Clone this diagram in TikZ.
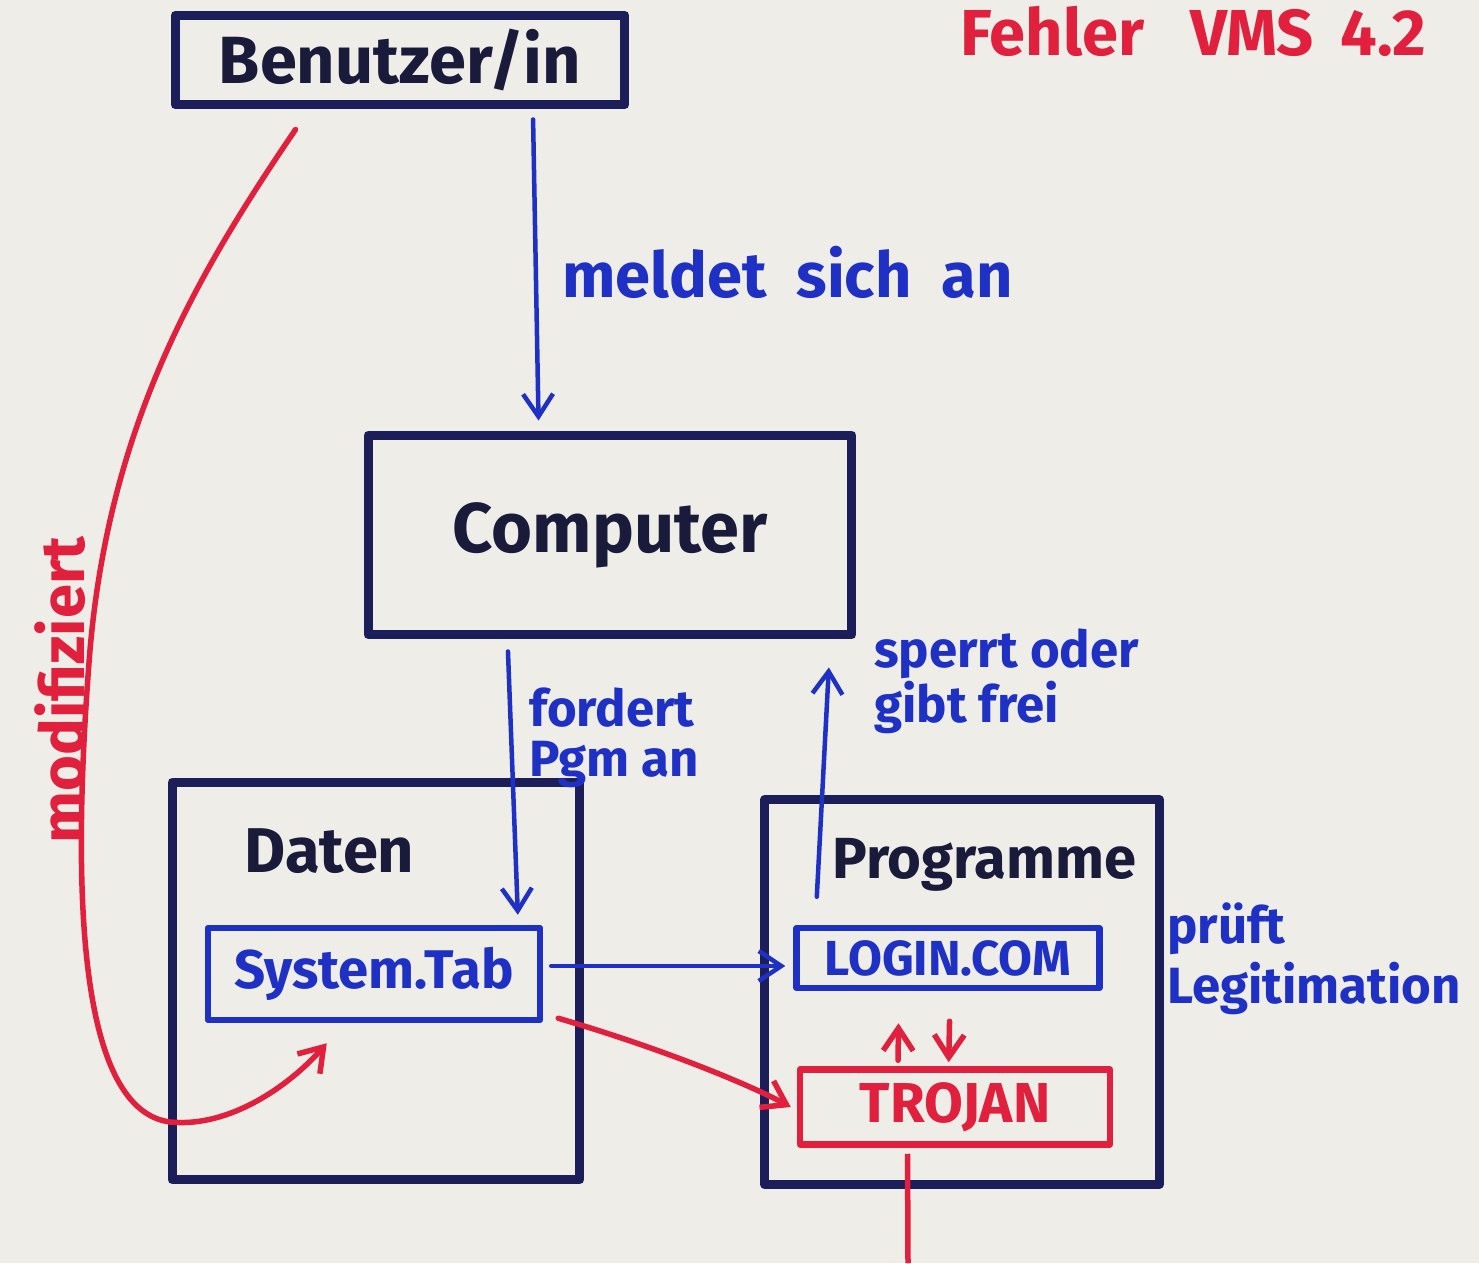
\documentclass[tikz,border=0pt]{standalone}
\usepackage{fontspec}
\setmainfont{Fira Sans}
\usetikzlibrary{arrows.meta,calc}
\definecolor{bgc}{HTML}{EEEDE8}
\definecolor{navy}{HTML}{1C1E5A}
\definecolor{ink}{HTML}{1A1A3A}
\definecolor{mblue}{HTML}{1F30C4}
\definecolor{mred}{HTML}{E0203C}
\newcommand{\fsz}[1]{\fontsize{#1}{#1}\selectfont}
\begin{document}
\begin{tikzpicture}[x=0.02cm,y=-0.02cm,
  box/.style={draw=navy,line width=0.18cm,line join=round,inner sep=0pt,text=ink,font=\bfseries},
  bbox/.style={draw=mblue,line width=0.13cm,line join=round,inner sep=0pt,text=mblue,font=\bfseries},
  rbox/.style={draw=mred,line width=0.13cm,line join=round,inner sep=0pt,text=mred,font=\bfseries},
  arr/.style={draw=mblue,line width=0.09cm,line cap=round,-{Straight Barb[length=0.45cm,width=0.6cm,line width=0.09cm]}},
  rarr/.style={draw=mred,line width=0.11cm,line cap=round,-{Straight Barb[length=0.45cm,width=0.6cm,line width=0.11cm]}},
  lbl/.style={text=mblue,inner sep=0pt,align=left},
  rlbl/.style={text=mred,font=\bfseries,inner sep=0pt}]
\fill[bgc] (0,0) rectangle (1479,1263);
\useasboundingbox (0,0) rectangle (1479,1263);

% boxes
\node[box,minimum width=9cm,minimum height=1.8cm] (benutzer) at (400,60) {\fsz{38}Benutzer/in};
\node[box,minimum width=9.68cm,minimum height=4cm] (computer) at (610,535) {\fsz{40}Computer\hspace{0.4cm}};
\node[box,minimum width=8.16cm,minimum height=7.96cm] (daten) at (376,981) {};
\node[box,minimum width=7.9cm,minimum height=7.7cm] (programme) at (962,992) {};
\node[box,draw=none,anchor=base west,inner sep=0pt] (datenlbl) at (240,872) {\fsz{36}Daten};
\node[box,draw=none,anchor=base west,inner sep=0pt] (proglbl) at (828,878) {\fsz{33}Programme};
\node[bbox,minimum width=6.64cm,minimum height=1.84cm] (sys) at (374,974) {\fsz{31}System.Tab};
\node[bbox,minimum width=6.06cm,minimum height=1.2cm] (login) at (948,958) {\fsz{28}LOGIN.COM};
\node[rbox,minimum width=6.2cm,minimum height=1.5cm] (trojan) at (955,1107) {\fsz{32}TROJAN};

% labels
\node[rlbl,anchor=base west] (fehler) at (960,56) {\fsz{37}Fehler\ \ \ VMS\ \,4.2};
\node[lbl,font=\bfseries,anchor=base west] (meldet) at (562,298) {\fsz{36}meldet\ \ sich\ \ an};
\node[lbl,font={\bfseries\fontsize{29}{28}\selectfont},anchor=base west] (fordert) at (529,776) {fordert\\Pgm an};
\node[lbl,font={\bfseries\fontsize{29}{25}\selectfont},anchor=base west] (sperrt) at (874,722) {sperrt oder\\gibt frei};
\node[lbl,font={\bfseries\fontsize{29}{34}\selectfont},anchor=base west] (prueft) at (1167,1003) {prüft\\Legitimation};
\node[rlbl,rotate=90] (modif) at (60,690) {\fsz{35}modifiziert};

% blue connectors
\draw[arr] ($(benutzer.south west)!0.79!(benutzer.south east)+(0,10)$) -- ($(computer.north west)!0.355!(computer.north east)+(0,-10)$);
\draw[arr] ($(computer.south west)!0.293!(computer.south east)+(0,12)$) -- ($(sys.north west)!0.925!(sys.north east)+(0,-10)$);
\draw[arr] ($(login.north west)!0.076!(login.north east)+(0,-28)$) -- ($(computer.south west)!0.944!(computer.south east)+(0,28)$);
\draw[arr] ($(sys.east)+(8,-8)$) -- ($(login.west)+(-8,8)$);

% red connectors
\draw[rarr] ($(trojan.north west)!0.32!(trojan.north east)+(0,-6)$) -- ($(login.south west)!0.34!(login.south east)+(0,32)$);
\draw[rarr] ($(login.south west)!0.505!(login.south east)+(0,30)$) -- ($(trojan.north west)!0.48!(trojan.north east)+(0,-4)$);
\draw[rarr] ($(sys.south east)+(15,-5)$) .. controls (650,1045) and (740,1080) .. ($(trojan.west)+(-6,0)$);
\coordinate (bottomend) at (908,1263);
\draw[draw=mred,line width=0.11cm] ($(trojan.south west)!0.35!(trojan.south east)+(0,6)$) -- (bottomend);
\draw[rarr] ($(benutzer.south west)+(125,20)$) .. controls (200,270) and (110,420) .. (90,650)
  .. controls (70,900) and (80,1110) .. (170,1122)
  .. controls (230,1128) and (290,1085) .. ($(sys.south west)+(122,20)$);
\end{tikzpicture}
\end{document}
